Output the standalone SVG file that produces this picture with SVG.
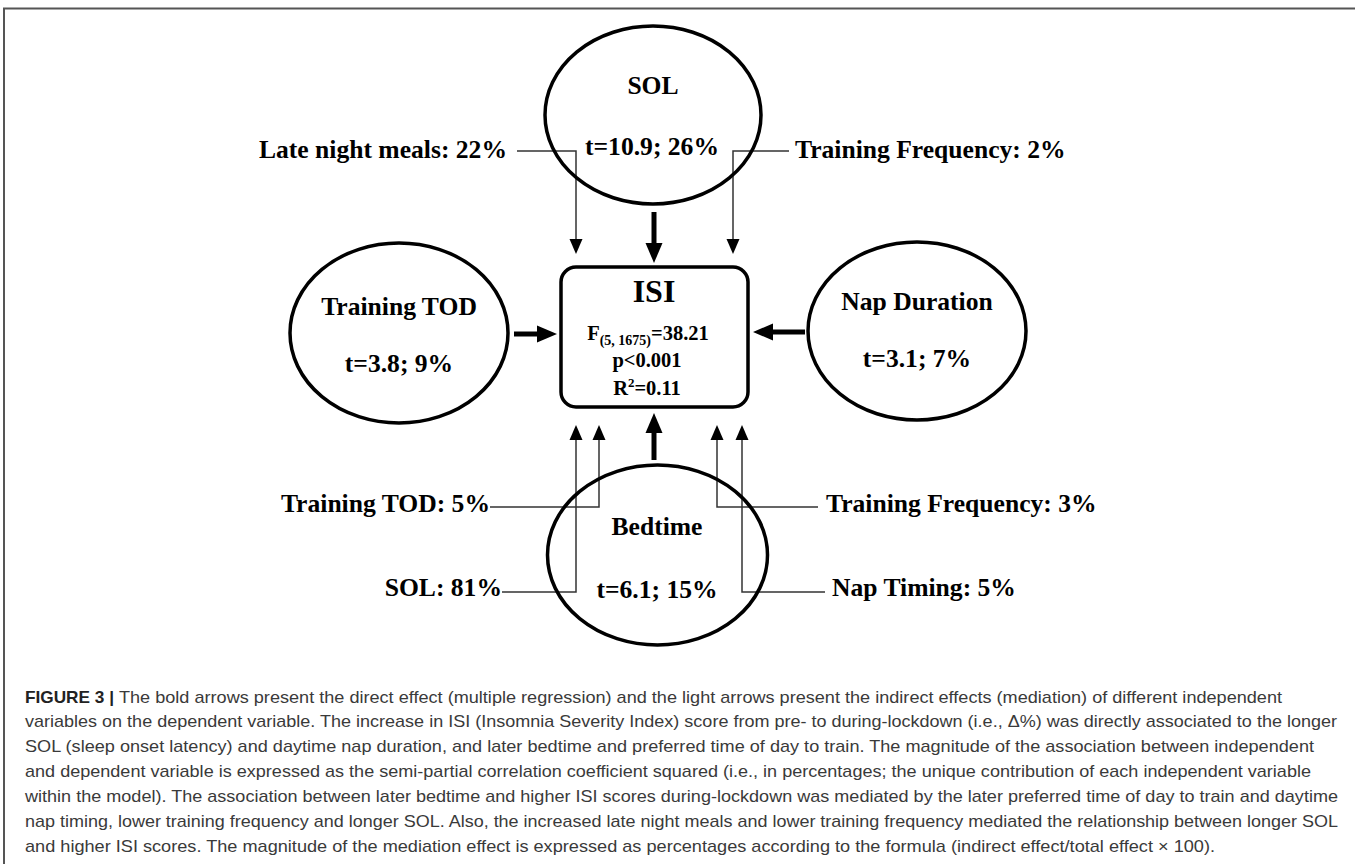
<svg xmlns="http://www.w3.org/2000/svg" width="1355" height="864" viewBox="0 0 1355 864">
<style>
.node{fill:#fff;stroke:#000;stroke-width:3.5}
.t{font-family:"Liberation Serif","Times New Roman",serif;font-weight:bold;font-size:25.6px;fill:#000}
.mid{text-anchor:middle}
.end{text-anchor:end}
.stat{font-family:"Liberation Serif","Times New Roman",serif;font-weight:bold;font-size:20.5px;fill:#000;text-anchor:middle}
.thin{fill:none;stroke:#333;stroke-width:1.5}
.bold{fill:none;stroke:#000;stroke-width:5}
.cap{font-family:"Liberation Sans",Arial,sans-serif;font-size:17px;fill:#3a3a3a}
.capb{font-family:"Liberation Sans",Arial,sans-serif;font-size:17px;font-weight:bold;fill:#222}
</style>
<defs>
<marker id="ah" viewBox="0 -7 15 14" refX="0" refY="0" markerWidth="15" markerHeight="14" markerUnits="userSpaceOnUse" orient="auto">
<path d="M0,-6.5 L15,0 L0,6.5 Z" fill="#000"/>
</marker>
<marker id="ahb" viewBox="0 -9 20 18" refX="0" refY="0" markerWidth="20" markerHeight="18" markerUnits="userSpaceOnUse" orient="auto">
<path d="M0,-8.5 L20,0 L0,8.5 Z" fill="#000"/>
</marker>
</defs>
<rect width="1355" height="864" fill="#fff"/>
<path d="M4,864 V8.5 H1355" fill="none" stroke="#555" stroke-width="2"/>

<g id="connectors">
<path class="thin" d="M517,151 H576 V239" marker-end="url(#ah)"/>
<path class="thin" d="M789,151 H733 V239" marker-end="url(#ah)"/>
<path class="thin" d="M490,507 H599 V440" marker-end="url(#ah)"/>
<path class="thin" d="M502,592 H576 V440" marker-end="url(#ah)"/>
<path class="thin" d="M818,507 H717 V440" marker-end="url(#ah)"/>
<path class="thin" d="M825,592 H742 V440" marker-end="url(#ah)"/>
<path class="bold" d="M654,212 V243" marker-end="url(#ahb)"/>
<path class="bold" d="M514,334 H537" marker-end="url(#ahb)"/>
<path class="bold" d="M805,332 H773" marker-end="url(#ahb)"/>
<path class="bold" d="M654,460 V433" marker-end="url(#ahb)"/>
</g>

<g id="node-sol">
<ellipse class="node" cx="653" cy="115" rx="108" ry="89" fill="none" style="fill:none"/>
<text class="t mid" x="653" y="94">SOL</text>
<text class="t mid" x="652" y="155">t=10.9; 26%</text>
</g>

<g id="node-training-tod">
<ellipse class="node" cx="399" cy="333" rx="109" ry="90"/>
<text class="t mid" x="399" y="315">Training TOD</text>
<text class="t mid" x="399" y="372">t=3.8; 9%</text>
</g>

<g id="node-nap-duration">
<ellipse class="node" cx="917" cy="331" rx="109" ry="89"/>
<text class="t mid" x="917" y="310">Nap Duration</text>
<text class="t mid" x="917" y="367">t=3.1; 7%</text>
</g>

<g id="node-bedtime">
<ellipse class="node" cx="657.5" cy="555" rx="110" ry="90" style="fill:none"/>
<text class="t mid" x="657" y="535">Bedtime</text>
<text class="t mid" x="657" y="598">t=6.1; 15%</text>
</g>

<g id="node-isi">
<rect class="node" x="561" y="267" width="187" height="140" rx="15"/>
<text class="t mid" x="654" y="302" style="font-size:32px">ISI</text>
<text class="stat" x="648" y="340">F<tspan font-size="14" dy="5">(5, 1675)</tspan><tspan dy="-5">=38.21</tspan></text>
<text class="stat" x="647" y="367">p&lt;0.001</text>
<text class="stat" x="647" y="395">R<tspan font-size="13" dy="-8">2</tspan><tspan dy="8">=0.11</tspan></text>
</g>

<g id="labels">
<text class="t end" x="507" y="158">Late night meals: 22%</text>
<text class="t" x="795" y="158">Training Frequency: 2%</text>
<text class="t end" x="490" y="512">Training TOD: 5%</text>
<text class="t end" x="502" y="596">SOL: 81%</text>
<text class="t" x="826" y="512">Training Frequency: 3%</text>
<text class="t" x="832" y="596">Nap Timing: 5%</text>
</g>

<g id="caption">
<text class="capb" x="25" y="703" textLength="89" lengthAdjust="spacingAndGlyphs">FIGURE 3 |</text>
<text class="cap" x="119" y="703" textLength="1163" lengthAdjust="spacingAndGlyphs">The bold arrows present the direct effect (multiple regression) and the light arrows present the indirect effects (mediation) of different independent</text>
<text class="cap" x="25" y="727" textLength="1312" lengthAdjust="spacingAndGlyphs">variables on the dependent variable. The increase in ISI (Insomnia Severity Index) score from pre- to during-lockdown (i.e., Δ%) was directly associated to the longer</text>
<text class="cap" x="25" y="752" textLength="1289" lengthAdjust="spacingAndGlyphs">SOL (sleep onset latency) and daytime nap duration, and later bedtime and preferred time of day to train. The magnitude of the association between independent</text>
<text class="cap" x="25" y="777" textLength="1286" lengthAdjust="spacingAndGlyphs">and dependent variable is expressed as the semi-partial correlation coefficient squared (i.e., in percentages; the unique contribution of each independent variable</text>
<text class="cap" x="25" y="802" textLength="1313" lengthAdjust="spacingAndGlyphs">within the model). The association between later bedtime and higher ISI scores during-lockdown was mediated by the later preferred time of day to train and daytime</text>
<text class="cap" x="25" y="827" textLength="1313" lengthAdjust="spacingAndGlyphs">nap timing, lower training frequency and longer SOL. Also, the increased late night meals and lower training frequency mediated the relationship between longer SOL</text>
<text class="cap" x="25" y="852" textLength="1190" lengthAdjust="spacingAndGlyphs">and higher ISI scores. The magnitude of the mediation effect is expressed as percentages according to the formula (indirect effect/total effect × 100).</text>
</g>
</svg>
